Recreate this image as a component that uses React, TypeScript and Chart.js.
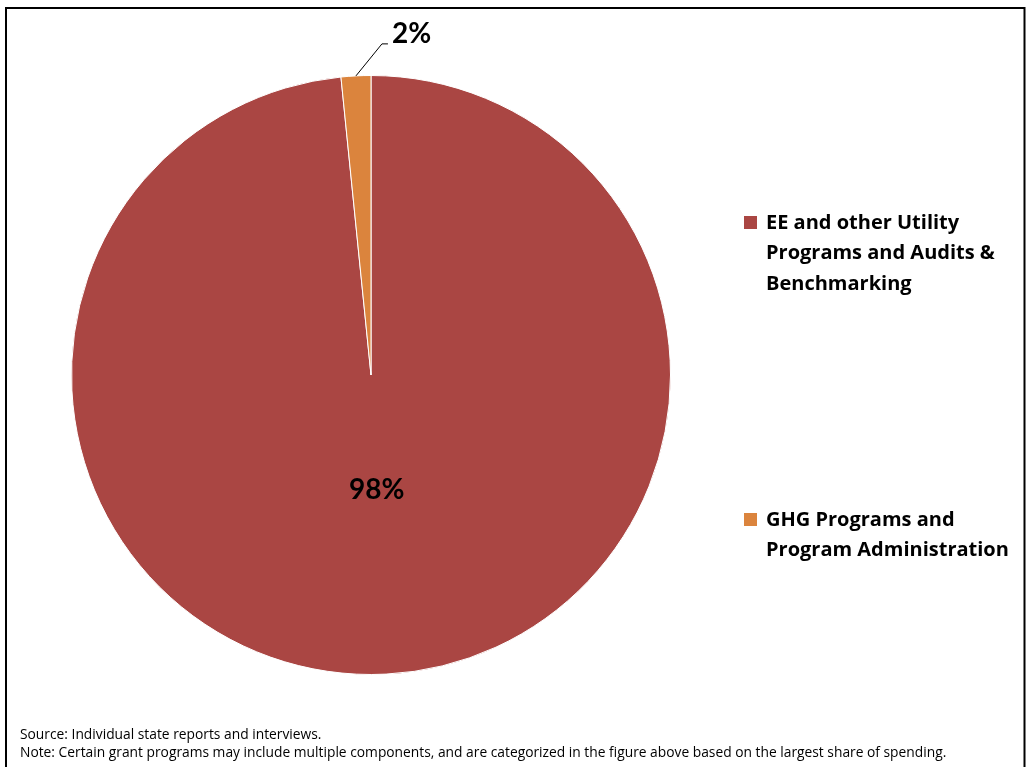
import React, { useEffect, useRef } from "react";
import { Chart, registerables } from "chart.js";

Chart.register(...registerables);

const categories = [
  "EE and other Utility Programs and Audits & Benchmarking",
  "GHG Programs and Program Administration",
];
const legendLines = [
  ["EE and other Utility", "Programs and Audits &", "Benchmarking"],
  ["GHG Programs and", "Program Administration"],
];
const shares = [98.4, 1.6];
const sliceColors = ["#AA4643", "#DB843D"];
const footnotes = [
  "Source: Individual state reports and interviews.",
  "Note: Certain grant programs may include multiple components, and are categorized in the figure above based on the largest share of spending.",
];

const W = 1026;
const H = 767;
const FONT = "Lato, 'Open Sans', sans-serif";
const TEXT_FONT = "'Open Sans', Lato, sans-serif";

const overlayPlugin = {
  id: "overlay",
  afterDraw(chart: any) {
    const ctx = chart.ctx as CanvasRenderingContext2D;
    ctx.save();
    // frame
    ctx.strokeStyle = "#000";
    ctx.lineWidth = 2;
    ctx.strokeRect(6, 8, 1018.5, 820);

    // data labels
    const meta = chart.getDatasetMeta(0);
    const total = shares.reduce((a, b) => a + b, 0);
    ctx.fillStyle = "#000";
    ctx.font = `bold 28px ${FONT}`;
    meta.data.forEach((arc: any, i: number) => {
      const p = arc.getProps(["x", "y", "startAngle", "endAngle", "outerRadius"], true);
      const mid = (p.startAngle + p.endAngle) / 2;
      const txt = Math.round((shares[i] / total) * 100) + "%";
      if (shares[i] / total > 0.1) {
        const r = p.outerRadius * 0.385;
        ctx.textAlign = "center";
        ctx.textBaseline = "middle";
        ctx.fillText(txt, p.x + Math.cos(mid) * r, p.y + Math.sin(mid) * r);
      } else {
        const ex = p.x + Math.cos(mid) * p.outerRadius;
        const ey = p.y + Math.sin(mid) * p.outerRadius;
        const kx = ex + 26;
        const ky = ey - 32;
        ctx.strokeStyle = "#000";
        ctx.lineWidth = 1;
        ctx.beginPath();
        ctx.moveTo(ex, ey);
        ctx.lineTo(kx, ky);
        ctx.lineTo(kx + 6, ky);
        ctx.stroke();
        ctx.textAlign = "left";
        ctx.textBaseline = "alphabetic";
        ctx.fillText(txt, kx + 10, ky - 1);
      }
    });

    // legend
    const legendTops = [223, 520];
    ctx.font = `bold 20px ${TEXT_FONT}`;
    ctx.textAlign = "left";
    ctx.textBaseline = "middle";
    legendLines.forEach((lines, i) => {
      const y0 = legendTops[i];
      ctx.fillStyle = sliceColors[i];
      ctx.fillRect(744, y0 - 7, 13, 13);
      ctx.fillStyle = "#000";
      lines.forEach((ln, j) => ctx.fillText(ln, 766, y0 + j * 30.5));
    });

    // footnotes
    ctx.font = `13.8px ${TEXT_FONT}`;
    ctx.fillStyle = "#000";
    footnotes.forEach((t, i) => ctx.fillText(t, 20, 735 + i * 18));
    ctx.restore();
  },
};

export default function App() {
  const ref = useRef<HTMLCanvasElement>(null);
  useEffect(() => {
    document.body.style.margin = "0";
    const chart = new Chart(ref.current!, {
      type: "pie",
      data: {
        labels: categories,
        datasets: [
          {
            data: shares,
            backgroundColor: sliceColors,
            borderColor: "#ffffff",
            borderWidth: 1,
          },
        ],
      },
      options: {
        responsive: false,
        animation: false,
        layout: { padding: { left: 71, top: 75, right: 355, bottom: 92 } },
        plugins: {
          legend: { display: false },
          tooltip: { enabled: false },
        },
      },
      plugins: [overlayPlugin],
    });
    return () => chart.destroy();
  }, []);
  return (
    <div style={{ position: "absolute", left: 0, top: 0, width: W, height: H, background: "#fff" }}>
      <canvas ref={ref} width={W} height={H} style={{ width: W, height: H, display: "block" }} />
    </div>
  );
}
